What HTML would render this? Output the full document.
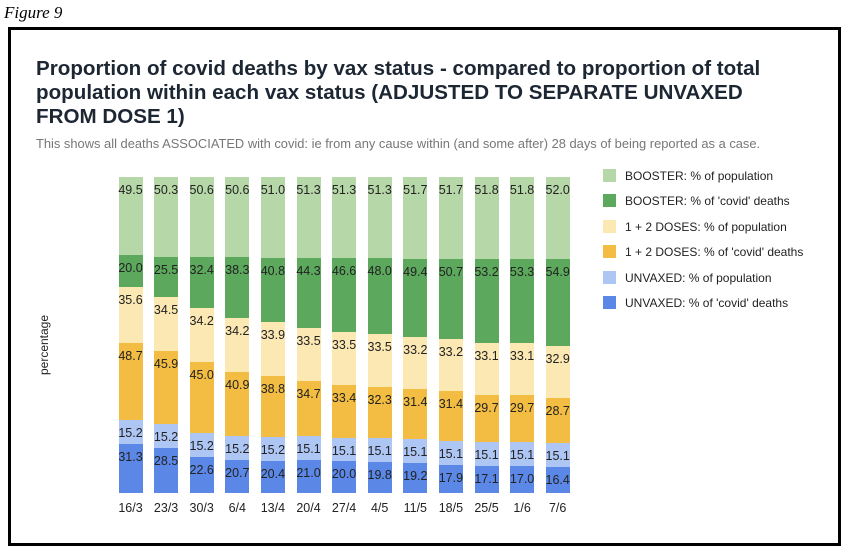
<!DOCTYPE html>
<html><head><meta charset="utf-8"><style>
body{margin:0;background:#fff;width:850px;height:554px;overflow:hidden;font-family:"Liberation Sans",sans-serif;position:relative}
.bar{position:absolute;top:177px;height:316px;width:24px;display:flex;flex-direction:column-reverse}
.bar div{flex:1 1 0;position:relative;min-height:0}
.bar span{position:absolute;left:-10px;right:-10px;top:6px;text-align:center;font-size:12.5px;line-height:14px;color:#222}
.a{background:#5b87e6}.b{background:#aec6f4}.c{background:#f2bd42}.d{background:#fce8b2}.e{background:#5ca85c}.f{background:#b6d7a8}
.xl{position:absolute;top:501px;width:50px;text-align:center;font-size:12.5px;color:#222}
</style></head><body>
<svg width="850" height="554" xmlns="http://www.w3.org/2000/svg" font-family="Liberation Sans, sans-serif" style="position:absolute;left:0;top:0">
<text x="4" y="18" font-family="Liberation Serif, serif" font-style="italic" font-size="17">Figure 9</text>
<rect x="9.5" y="28.5" width="830" height="516" fill="#fff" stroke="#000" stroke-width="3"/>
<g font-weight="bold" font-size="20.6" fill="#1d2733">
<text x="36" y="75">Proportion of covid deaths by vax status - compared to proportion of total</text>
<text x="36" y="99">population within each vax status (ADJUSTED TO SEPARATE UNVAXED</text>
<text x="36" y="123">FROM DOSE 1)</text>
</g>
<text x="36" y="148" font-size="12.9" fill="#777">This shows all deaths ASSOCIATED with covid: ie from any cause within (and some after) 28 days of being reported as a case.</text>
<text transform="translate(48,345) rotate(-90)" font-size="12" fill="#222" text-anchor="middle">percentage</text>
<g font-size="12" fill="#222">
<rect x="603" y="169" width="13" height="13" fill="#b6d7a8"/><text x="625" y="180">BOOSTER: % of population</text>
<rect x="603" y="194" width="13" height="13" fill="#5ca85c"/><text x="625" y="205">BOOSTER: % of 'covid' deaths</text>
<rect x="603" y="220" width="13" height="13" fill="#fce8b2"/><text x="625" y="231">1 + 2 DOSES: % of population</text>
<rect x="603" y="245" width="13" height="13" fill="#f2bd42"/><text x="625" y="256">1 + 2 DOSES: % of 'covid' deaths</text>
<rect x="603" y="271" width="13" height="13" fill="#aec6f4"/><text x="625" y="282">UNVAXED: % of population</text>
<rect x="603" y="296" width="13" height="13" fill="#5b87e6"/><text x="625" y="307">UNVAXED: % of 'covid' deaths</text>
</g>
</svg>
<div class="bar" style="left:118.5px"><div class="a" style="flex-grow:31.3"><span>31.3</span></div><div class="b" style="flex-grow:15.2"><span>15.2</span></div><div class="c" style="flex-grow:48.7"><span>48.7</span></div><div class="d" style="flex-grow:35.6"><span>35.6</span></div><div class="e" style="flex-grow:20.0"><span>20.0</span></div><div class="f" style="flex-grow:49.5"><span>49.5</span></div></div>
<div class="bar" style="left:154.1px"><div class="a" style="flex-grow:28.5"><span>28.5</span></div><div class="b" style="flex-grow:15.2"><span>15.2</span></div><div class="c" style="flex-grow:45.9"><span>45.9</span></div><div class="d" style="flex-grow:34.5"><span>34.5</span></div><div class="e" style="flex-grow:25.5"><span>25.5</span></div><div class="f" style="flex-grow:50.3"><span>50.3</span></div></div>
<div class="bar" style="left:189.7px"><div class="a" style="flex-grow:22.6"><span>22.6</span></div><div class="b" style="flex-grow:15.2"><span>15.2</span></div><div class="c" style="flex-grow:45.0"><span>45.0</span></div><div class="d" style="flex-grow:34.2"><span>34.2</span></div><div class="e" style="flex-grow:32.4"><span>32.4</span></div><div class="f" style="flex-grow:50.6"><span>50.6</span></div></div>
<div class="bar" style="left:225.3px"><div class="a" style="flex-grow:20.7"><span>20.7</span></div><div class="b" style="flex-grow:15.2"><span>15.2</span></div><div class="c" style="flex-grow:40.9"><span>40.9</span></div><div class="d" style="flex-grow:34.2"><span>34.2</span></div><div class="e" style="flex-grow:38.3"><span>38.3</span></div><div class="f" style="flex-grow:50.6"><span>50.6</span></div></div>
<div class="bar" style="left:260.9px"><div class="a" style="flex-grow:20.4"><span>20.4</span></div><div class="b" style="flex-grow:15.2"><span>15.2</span></div><div class="c" style="flex-grow:38.8"><span>38.8</span></div><div class="d" style="flex-grow:33.9"><span>33.9</span></div><div class="e" style="flex-grow:40.8"><span>40.8</span></div><div class="f" style="flex-grow:51.0"><span>51.0</span></div></div>
<div class="bar" style="left:296.5px"><div class="a" style="flex-grow:21.0"><span>21.0</span></div><div class="b" style="flex-grow:15.1"><span>15.1</span></div><div class="c" style="flex-grow:34.7"><span>34.7</span></div><div class="d" style="flex-grow:33.5"><span>33.5</span></div><div class="e" style="flex-grow:44.3"><span>44.3</span></div><div class="f" style="flex-grow:51.3"><span>51.3</span></div></div>
<div class="bar" style="left:332.1px"><div class="a" style="flex-grow:20.0"><span>20.0</span></div><div class="b" style="flex-grow:15.1"><span>15.1</span></div><div class="c" style="flex-grow:33.4"><span>33.4</span></div><div class="d" style="flex-grow:33.5"><span>33.5</span></div><div class="e" style="flex-grow:46.6"><span>46.6</span></div><div class="f" style="flex-grow:51.3"><span>51.3</span></div></div>
<div class="bar" style="left:367.7px"><div class="a" style="flex-grow:19.8"><span>19.8</span></div><div class="b" style="flex-grow:15.1"><span>15.1</span></div><div class="c" style="flex-grow:32.3"><span>32.3</span></div><div class="d" style="flex-grow:33.5"><span>33.5</span></div><div class="e" style="flex-grow:48.0"><span>48.0</span></div><div class="f" style="flex-grow:51.3"><span>51.3</span></div></div>
<div class="bar" style="left:403.3px"><div class="a" style="flex-grow:19.2"><span>19.2</span></div><div class="b" style="flex-grow:15.1"><span>15.1</span></div><div class="c" style="flex-grow:31.4"><span>31.4</span></div><div class="d" style="flex-grow:33.2"><span>33.2</span></div><div class="e" style="flex-grow:49.4"><span>49.4</span></div><div class="f" style="flex-grow:51.7"><span>51.7</span></div></div>
<div class="bar" style="left:438.9px"><div class="a" style="flex-grow:17.9"><span>17.9</span></div><div class="b" style="flex-grow:15.1"><span>15.1</span></div><div class="c" style="flex-grow:31.4"><span>31.4</span></div><div class="d" style="flex-grow:33.2"><span>33.2</span></div><div class="e" style="flex-grow:50.7"><span>50.7</span></div><div class="f" style="flex-grow:51.7"><span>51.7</span></div></div>
<div class="bar" style="left:474.5px"><div class="a" style="flex-grow:17.1"><span>17.1</span></div><div class="b" style="flex-grow:15.1"><span>15.1</span></div><div class="c" style="flex-grow:29.7"><span>29.7</span></div><div class="d" style="flex-grow:33.1"><span>33.1</span></div><div class="e" style="flex-grow:53.2"><span>53.2</span></div><div class="f" style="flex-grow:51.8"><span>51.8</span></div></div>
<div class="bar" style="left:510.1px"><div class="a" style="flex-grow:17.0"><span>17.0</span></div><div class="b" style="flex-grow:15.1"><span>15.1</span></div><div class="c" style="flex-grow:29.7"><span>29.7</span></div><div class="d" style="flex-grow:33.1"><span>33.1</span></div><div class="e" style="flex-grow:53.3"><span>53.3</span></div><div class="f" style="flex-grow:51.8"><span>51.8</span></div></div>
<div class="bar" style="left:545.7px"><div class="a" style="flex-grow:16.4"><span>16.4</span></div><div class="b" style="flex-grow:15.1"><span>15.1</span></div><div class="c" style="flex-grow:28.7"><span>28.7</span></div><div class="d" style="flex-grow:32.9"><span>32.9</span></div><div class="e" style="flex-grow:54.9"><span>54.9</span></div><div class="f" style="flex-grow:52.0"><span>52.0</span></div></div>
<div class="xl" style="left:105.5px">16/3</div>
<div class="xl" style="left:141.1px">23/3</div>
<div class="xl" style="left:176.7px">30/3</div>
<div class="xl" style="left:212.3px">6/4</div>
<div class="xl" style="left:247.9px">13/4</div>
<div class="xl" style="left:283.5px">20/4</div>
<div class="xl" style="left:319.1px">27/4</div>
<div class="xl" style="left:354.7px">4/5</div>
<div class="xl" style="left:390.3px">11/5</div>
<div class="xl" style="left:425.9px">18/5</div>
<div class="xl" style="left:461.5px">25/5</div>
<div class="xl" style="left:497.1px">1/6</div>
<div class="xl" style="left:532.7px">7/6</div>
</body></html>
